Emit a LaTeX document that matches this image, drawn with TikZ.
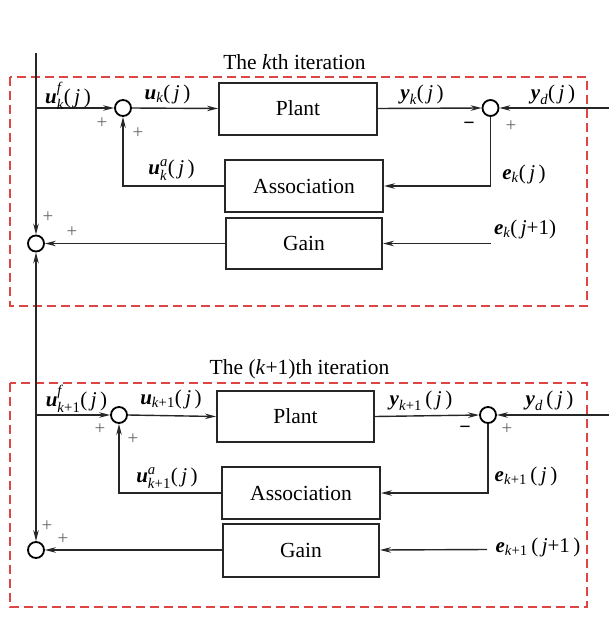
\documentclass[tikz,border=0pt]{standalone}
\usepackage{fontspec}
\usepackage{amsmath}
\setmainfont{Liberation Serif}
\usetikzlibrary{arrows.meta}
\definecolor{framered}{RGB}{222,70,70}
\newcommand\bv[1]{\textbf{\textit{#1}}}
\newcommand\ti[1]{\textit{#1}}
\begin{document}
\begin{tikzpicture}[x=1pt,y=-1pt,
  blk/.style={draw=black!85, line width=2pt, minimum width=158pt, minimum height=52pt, inner sep=0pt, font=\fontsize{21.5}{24}\selectfont},
  sumc/.style={circle, draw=black, line width=1.8pt, minimum size=16pt, inner sep=0pt},
  ln/.style={draw=black!85, line width=1.4pt},
  tip/.tip={Stealth[length=11pt,width=5.5pt]},
  arr/.style={ln, -tip},
  frame/.style={draw=framered, dash pattern=on 9pt off 5pt, line width=1.1pt},
  sig/.style={text=black!60, font=\fontsize{19}{19}\selectfont, inner sep=0pt},
  neg/.style={text=black, font=\fontsize{20}{20}\selectfont\bfseries, inner sep=0pt},
  lab/.style={font=\fontsize{21}{22}\selectfont, inner sep=0pt},
  ttl/.style={font=\fontsize{21.5}{24}\selectfont, inner sep=0pt}]
\useasboundingbox (0,0) rectangle (609,626);

% frames and titles
\draw[frame] (10,77) rectangle (587,306);
\draw[frame] (10,383) rectangle (587,607);
\node[ttl] (t1) at (294.5,62) {The \textit{k}th iteration};
\node[ttl] (t2) at (299.5,369) {The (\textit{k}+1)th iteration};

% ---------- k-th iteration ----------
\node[blk] (P1) at (298,108.5) {Plant};
\node[blk] (A1) at (304,186) {Association};
\node[blk, minimum width=156pt, minimum height=51pt] (G1) at (304,243.5) {Gain};
\node[sumc] (S1) at (123,108) {};
\node[sumc] (R1) at (490.5,108) {};
\node[sumc] (C1) at (36,243.5) {};
\coordinate (top) at (36,53);
\coordinate (B1) at (36,108);
\coordinate (yd1) at (609,108);
\coordinate (ej1) at (491,243.5);

\draw[arr] (top) -- (C1.north);
\draw[arr] (B1) -- (S1.west);
\draw[arr] (S1.east) -- (P1.west);
\draw[arr] (P1.east) -- (R1.west);
\draw[arr] (yd1) -- (R1.east);
\draw[arr] (R1.south) |- (A1.east);
\draw[arr] (A1.west) -| (S1.south);
\draw[arr] (ej1) -- (G1.east);
\draw[arr] (G1.west) -- (C1.east);

\node[lab] (l1) at (68,96) {$\bv{u}^{\ti{f}}_{\ti{k}}$(\,\ti{j}\,)};
\node[lab] (l2) at (167.5,94) {$\bv{u}_{\ti{k}}$(\,\ti{j}\,)};
\node[lab] (l3) at (171.5,170) {$\bv{u}^{\ti{a}}_{\ti{k}}$(\,\ti{j}\,)};
\node[lab] (l4) at (422,95) {$\bv{y}_{\ti{k}}$(\,\ti{j}\,)};
\node[lab] (l5) at (553,95) {$\bv{y}_{\ti{d}}$(\,\ti{j}\,)};
\node[lab] (l6) at (524,174) {$\bv{e}_{\ti{k}}$(\,\ti{j}\,)};
\node[lab] (l7) at (525,229) {$\bv{e}_{\ti{k}}$(\,\ti{j}+1)};

\node[sig] (p1) at (102,123) {+};
\node[sig] (p2) at (138,133) {+};
\node[sig] (p3) at (48,217) {+};
\node[sig] (p4) at (72,232) {+};
\node[neg] (m1) at (469,126) {−};
\node[sig] (p5) at (511,126) {+};

% ---------- (k+1)-th iteration ----------
\node[blk, minimum width=157pt, minimum height=51pt] (P2) at (295.5,416.5) {Plant};
\node[blk] (A2) at (301,493) {Association};
\node[blk, minimum width=156pt, minimum height=53pt] (G2) at (301,550) {Gain};
\node[sumc] (S2) at (119,415) {};
\node[sumc] (R2) at (488,415) {};
\node[sumc] (C2) at (36,550) {};
\coordinate (B2) at (36,415);
\coordinate (yd2) at (609,415);
\coordinate (ej2) at (487,549.5);

\draw[ln, tip-tip] (C1.south) -- (C2.north);
\draw[arr] (B2) -- (S2.west);
\draw[arr] (S2.east) -- (P2.west);
\draw[arr] (P2.east) -- (R2.west);
\draw[arr] (yd2) -- (R2.east);
\draw[arr] (R2.south) |- (A2.east);
\draw[arr] (A2.west) -| (S2.south);
\draw[arr] (ej2) -- (G2.east);
\draw[arr] (G2.west) -- (C2.east);

\node[lab] (q1) at (76.5,399) {$\bv{u}^{\ti{f}}_{\text{\ti{k}+1}}$(\,\ti{j}\,)};
\node[lab] (q2) at (171,399) {$\bv{u}_{\text{\ti{k}+1}}$(\,\ti{j}\,)};
\node[lab] (q3) at (167,478) {$\bv{u}^{\ti{a}}_{\text{\ti{k}+1}}$(\,\ti{j}\,)};
\node[lab] (q4) at (421,401) {$\bv{y}_{\text{\ti{k}+1}}$\,(\,\ti{j}\,)};
\node[lab] (q5) at (549.5,401) {$\bv{y}_{\ti{d}}$\,(\,\ti{j}\,)};
\node[lab] (q6) at (526,476) {$\bv{e}_{\text{\ti{k}+1}}$\,(\,\ti{j}\,)};
\node[lab] (q7) at (538,547) {$\bv{e}_{\text{\ti{k}+1}}$\,(\,\ti{j}+1\,)};

\node[sig] (r1) at (100,429) {+};
\node[sig] (r2) at (133,439) {+};
\node[sig] (r3) at (47,526) {+};
\node[sig] (r4) at (63,539) {+};
\node[neg] (n1) at (465,430) {−};
\node[sig] (r5) at (507,429) {+};
\end{tikzpicture}
\end{document}
